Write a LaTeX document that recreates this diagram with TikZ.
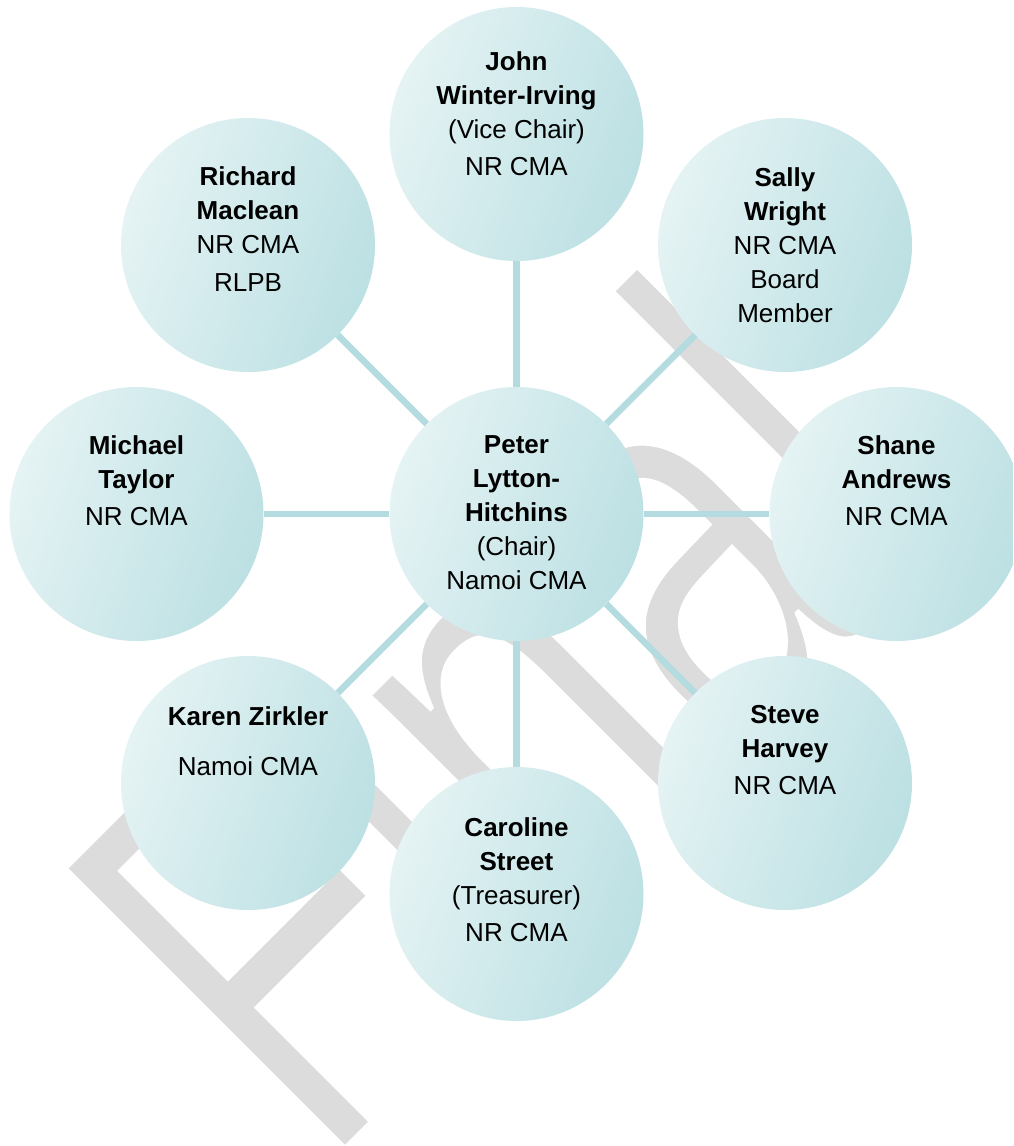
\documentclass[tikz,border=0pt]{standalone}
\usepackage{fontspec}
\setmainfont{Liberation Sans}
\definecolor{cLight}{RGB}{229,243,244}
\definecolor{cDark}{RGB}{188,224,227}
\definecolor{cConn}{RGB}{180,220,224}
\definecolor{cWm}{RGB}{220,220,220}
\begin{document}
\begin{tikzpicture}[x=1pt,y=-1pt,
  member/.style={circle, minimum size=254pt, inner sep=0pt, left color=cLight, right color=cDark, shading angle=70},
  conn/.style={draw=cConn, line width=6.5pt},
  ntext/.style={anchor=north, align=center, inner sep=0pt, font=\fontsize{26}{34}\selectfont, text=black}
]
\useasboundingbox (0,0) rectangle (1013,1146);
\clip (0,0) rectangle (1013,1146);
% watermark
\begin{scope}[shift={(321.9,1173.7)}, rotate=45, xscale=0.71]
\node[transform shape, anchor=base west, inner sep=0pt, text=cWm, font=\fontsize{580}{580}\selectfont] (wmark) at (0,0) {\special{pdf:literal direct 1 1 1 RG 8 w 2 Tr}Final\special{pdf:literal direct 0 Tr}};
\end{scope}
% circles
\node[member] (P)  at (516.5,514) {};
\node[member] (J)  at (516.5,134) {};
\node[member] (R)  at (248,245) {};
\node[member] (Sa) at (785,245) {};
\node[member] (M)  at (136.5,514) {};
\node[member] (Sh) at (896.5,514) {};
\node[member] (K)  at (248,783) {};
\node[member] (St) at (785,783) {};
\node[member] (C)  at (516.5,894) {};
% connectors
\draw[conn] (P) -- (J);
\draw[conn] (P) -- (R);
\draw[conn] (P) -- (Sa);
\draw[conn] (P) -- (M);
\draw[conn] (P) -- (Sh);
\draw[conn] (P) -- (K);
\draw[conn] (P) -- (St);
\draw[conn] (P) -- (C);
% texts
\node[ntext] (tJ) at (516.5,51) {\textbf{John}\\\textbf{Winter-Irving}\\(Vice Chair)\\[3pt]NR CMA};
\node[ntext] (tR) at (248,166) {\textbf{Richard}\\\textbf{Maclean}\\NR CMA\\[4pt]RLPB};
\node[ntext] (tSa) at (785,167) {\textbf{Sally}\\\textbf{Wright}\\NR CMA\\Board\\Member};
\node[ntext] (tM) at (136.5,435) {\textbf{Michael}\\\textbf{Taylor}\\[3pt]NR CMA};
\node[ntext] (tP) at (516.5,435) {\textbf{Peter}\\\textbf{Lytton-}\\\textbf{Hitchins}\\(Chair)\\Namoi CMA};
\node[ntext] (tSh) at (896.5,435) {\textbf{Shane}\\\textbf{Andrews}\\[3pt]NR CMA};
\node[ntext] (tK) at (248,706) {\textbf{Karen Zirkler}\\[16pt]Namoi CMA};
\node[ntext] (tSt) at (785,705) {\textbf{Steve}\\\textbf{Harvey}\\[3pt]NR CMA};
\node[ntext] (tC) at (516.5,817) {\textbf{Caroline}\\\textbf{Street}\\(Treasurer)\\[3pt]NR CMA};
\end{tikzpicture}
\end{document}
